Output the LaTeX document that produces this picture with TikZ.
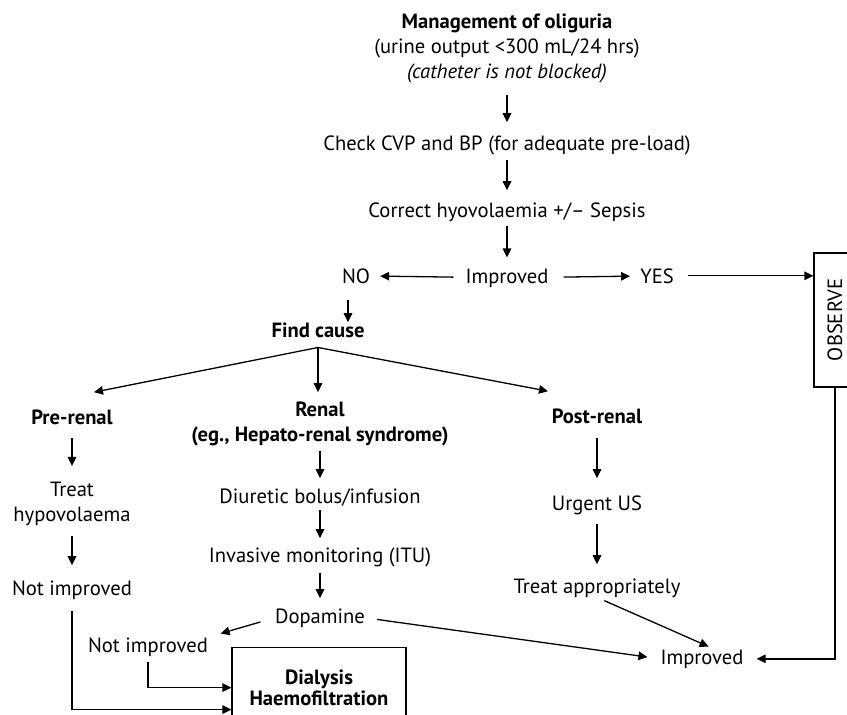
\documentclass[tikz,border=0pt]{standalone}
\usepackage{fontspec}
\setmainfont{PT Sans}
\usetikzlibrary{arrows.meta, positioning}

\begin{document}
\begin{tikzpicture}[
  x=1pt, y=-1pt,
  font=\fontsize{20.6}{25}\selectfont,
  txt/.style={inner sep=0pt, anchor=base},
  hd/.style={txt, font=\fontsize{20.6}{25}\selectfont\bfseries},
  multi/.style={inner sep=0pt, align=center},
  frame/.style={draw, line width=1.2pt, inner sep=0pt, align=center},
  arr/.style={-{Triangle[length=9pt, width=8.5pt]}, line width=1.3pt},
]
\clip (0,0) rectangle (847,715);

% main column
\node[multi] (title) at (507,48) {\textbf{Management of oliguria}\\(urine output <300 mL/24 hrs)\\\textit{(catheter is not blocked)}};
\node[txt] (check)   at (507,150) {Check CVP and BP (for adequate pre-load)};
\node[txt] (correct) at (507,217) {Correct hyovolaemia +/-- Sepsis};
\node[txt] (imp)     at (507,283) {Improved};
\node[txt] (no)      at (356,283) {NO};
\node[txt] (yes)     at (657,283) {YES};
\node[frame, rotate=90, minimum width=134pt, minimum height=42pt] (obs) at (835,320) {OBSERVE};

% causes
\node[hd] (cause) at (318,337) {Find cause};
\coordinate[below=10pt of cause.south] (fork);
\node[hd] (pre)  at (72,424) {Pre-renal};
\node[multi, font=\fontsize{20.6}{25}\selectfont\bfseries] (renal) at (320,423.5) {Renal\\(eg., Hepato-renal syndrome)};
\node[hd] (post) at (597,423) {Post-renal};

% pre-renal branch
\node[multi] (treat) at (72,504) {Treat\\hypovolaema};
\node[txt] (nimpA) at (72,595) {Not improved};

% renal branch
\node[txt] (diur)  at (320,503) {Diuretic bolus/infusion};
\node[txt] (inv)   at (320,562) {Invasive monitoring (ITU)};
\node[txt] (dop)   at (320,623) {Dopamine};
\node[txt] (nimpB) at (148,652) {Not improved};
\node[frame, anchor=north, minimum width=174pt, minimum height=80pt,
      font=\fontsize{20.6}{21}\selectfont\bfseries] (dial) at (319,647) {Dialysis\\Haemofiltration};

% post-renal branch
\node[txt] (urg)  at (597,510) {Urgent US};
\node[txt] (appr) at (597,593) {Treat appropriately};
\node[txt] (impB) at (702,664) {Improved};

% connectors
\draw[arr, shorten <=12pt, shorten >=13pt] (title) -- (check);
\draw[arr, shorten <=5pt, shorten >=12pt] (check) -- (correct);
\draw[arr, shorten <=5pt, shorten >=11pt] (correct) -- (imp);
\draw[arr, shorten <=12pt, shorten >=10pt] (imp) -- (no);
\draw[arr, shorten <=15pt, shorten >=10pt] (imp) -- (yes);
\draw[arr, shorten <=14pt] (yes) -- (yes -| obs.north);
\draw[arr, shorten <=17pt] ([xshift=-8pt]no.south) -- ([xshift=-8pt]no.south |- cause.north);

\draw[arr] (fork) -- ([shift={(22pt,17pt)}]pre.north);
\draw[arr, shorten >=9pt] (fork) -- (fork |- renal.north);
\draw[arr] (fork) -- ([shift={(-49pt,17pt)}]post.north);

\draw[arr, shorten <=14pt, shorten >=16pt] (pre) -- (treat);
\draw[arr, shorten <=10pt, shorten >=15pt] (treat) -- (nimpA);
\draw[arr, shorten <=12pt] (nimpA.south) |- ([yshift=-22pt]dial.west);

\draw[arr, shorten <=5pt, shorten >=10pt] (renal) -- (diur);
\draw[arr, shorten <=4pt, shorten >=9pt] (diur) -- (inv);
\draw[arr, shorten <=6pt, shorten >=10pt] (inv.south) -- (dop.north);
\draw[arr, shorten <=15pt, shorten >=13pt] (dop.west) -- (nimpB.north east);
\draw[arr, shorten <=6pt] (nimpB.south) |- (dial.west);
\draw[arr, shorten <=12pt, shorten >=13pt] (dop.east) -- (impB.west);

\draw[arr, shorten <=15pt, shorten >=17pt] (post) -- (urg);
\draw[arr, shorten <=9pt, shorten >=14pt] (urg) -- (appr);
\draw[arr, shorten <=8pt, shorten >=7pt] (appr.south) -- ([xshift=13pt]impB.north);
\draw[arr, shorten >=13pt] (obs.west) |- (impB.east);

\end{tikzpicture}
\end{document}
